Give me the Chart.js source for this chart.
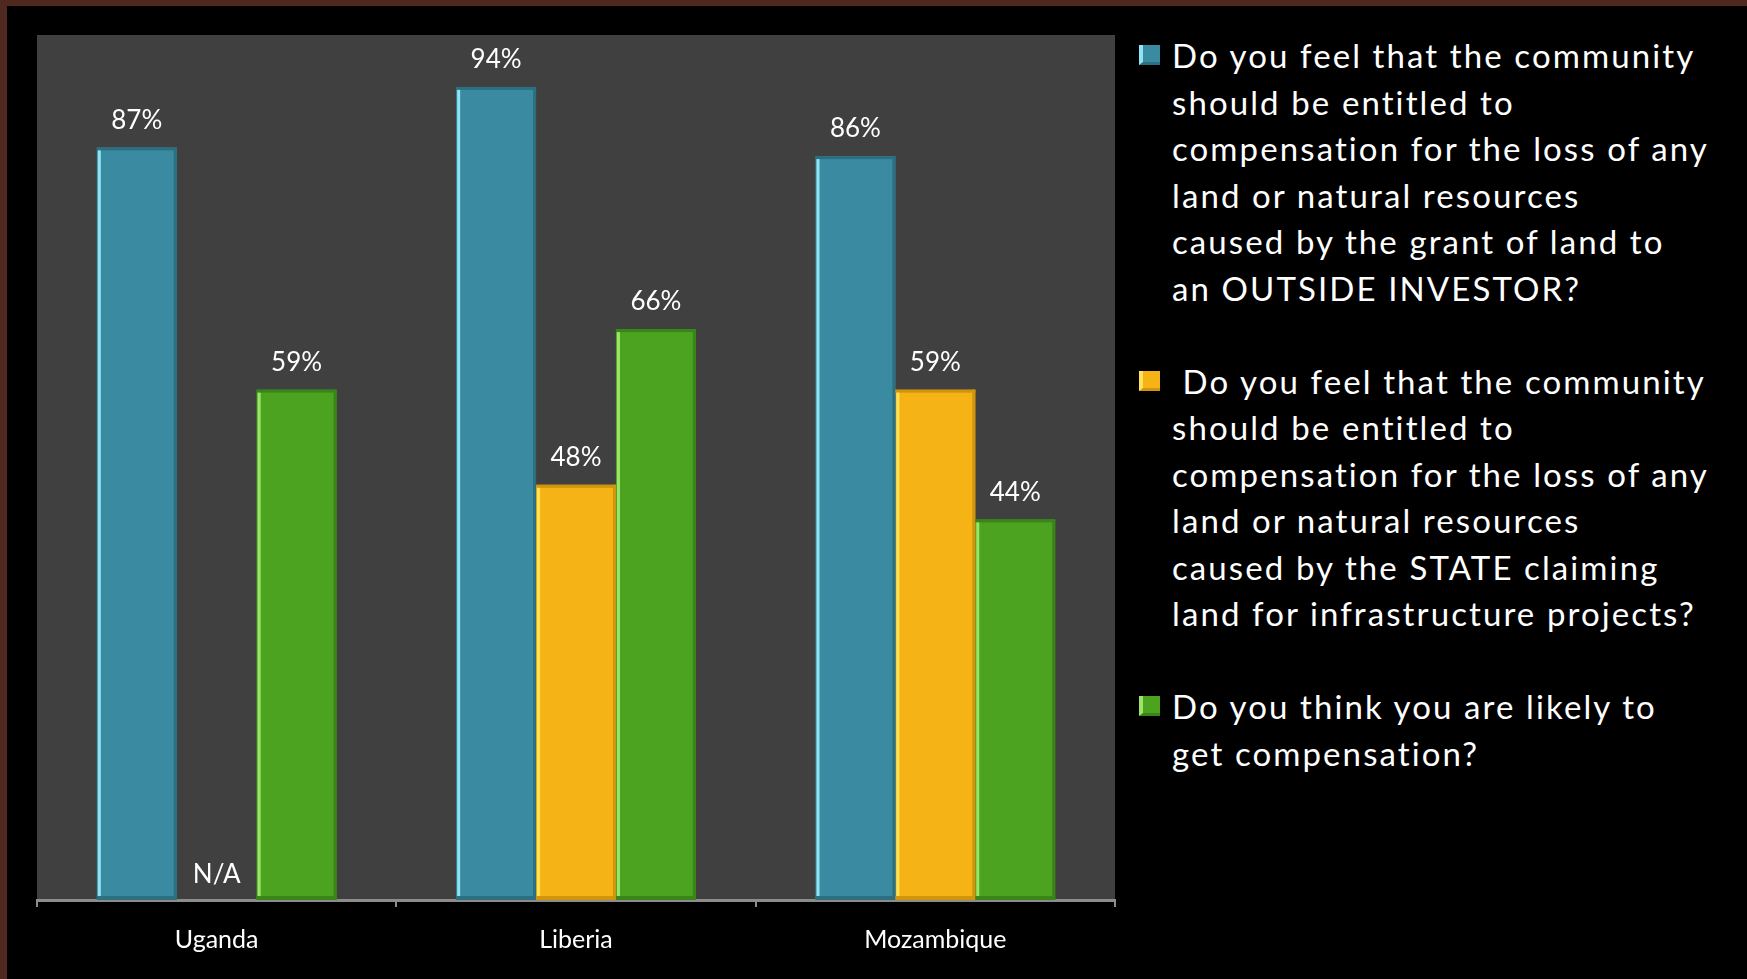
<!DOCTYPE html>
<html>
<head>
<meta charset="utf-8">
<script src="https://cdn.jsdelivr.net/npm/chart.js@4.4.1/dist/chart.umd.min.js"></script>
<style>
  html, body { margin: 0; padding: 0; background: #000; }
  body { width: 1747px; height: 979px; overflow: hidden; position: relative; font-family: Lato, "Noto Sans", sans-serif; }
  .edge { position: absolute; background: #4f281f; }
  #edgeTop { left: 0; top: 0; width: 1747px; height: 6px; }
  #edgeLeft { left: 0; top: 0; width: 7px; height: 979px; }
  #chart { position: absolute; left: 0; top: 0; }
  #legend { position: absolute; left: 1139px; top: 32px; width: 620px; color: #fff; font-size: 33px; line-height: 46.5px; letter-spacing: 2.1px; }
  .item { display: flex; align-items: flex-start; margin-bottom: 46.5px; }
  .swatch { width: 21px; height: 20px; margin-top: 13px; margin-right: 12px; flex: none; box-sizing: border-box; }
  .txt { white-space: pre-wrap; }
</style>
</head>
<body>
<div class="edge" id="edgeTop"></div>
<div class="edge" id="edgeLeft"></div>
<canvas id="chart"></canvas>
<div id="legend"></div>

<script>
/* DATA */
const countries = ["Uganda", "Liberia", "Mozambique"];
const investorComp = [87, 94, 86];
const stateComp = [null, 48, 59];
const likelyComp = [59, 66, 44];
const missingText = "N/A";

const seriesNames = [
  "Do you feel that the community\nshould be entitled to\ncompensation for the loss of any\nland or natural resources\ncaused by the grant of land to\nan OUTSIDE INVESTOR?",
  " Do you feel that the community\nshould be entitled to\ncompensation for the loss of any\nland or natural resources\ncaused by the STATE claiming\nland for infrastructure projects?",
  "Do you think you are likely to\nget compensation?"
];

/* COLOURS */
const fills = ["#3a8ba1", "#f5b315", "#4ba320"];
const lights = ["#8fe3f2", "#ffe45a", "#9be56a"];
const darks = ["#2c6f80", "#d1950c", "#3a8518"];

/* plot background */
const plotBg = {
  id: "plotBg",
  beforeDraw(chart) {
    const { ctx, chartArea: a } = chart;
    ctx.save();
    ctx.fillStyle = "#404040";
    ctx.fillRect(a.left, a.top, a.right - a.left, a.bottom - a.top);
    ctx.restore();
  }
};

/* bevel edges + value labels */
const barDeco = {
  id: "barDeco",
  afterDatasetsDraw(chart) {
    const ctx = chart.ctx;
    const bottom = chart.chartArea.bottom;
    ctx.save();
    ctx.font = "26px Lato, sans-serif";
    ctx.textAlign = "center";
    ctx.textBaseline = "middle";
    chart.data.datasets.forEach((ds, i) => {
      const meta = chart.getDatasetMeta(i);
      meta.data.forEach((bar, j) => {
        const v = ds.data[j];
        const p = bar.getProps(["x", "y", "base", "width"], true);
        const l = p.x - p.width / 2;
        const r = p.x + p.width / 2;
        if (v == null) {
          ctx.fillStyle = "#fff";
          ctx.fillText(missingText, p.x, bottom - 25);
          return;
        }
        ctx.fillStyle = darks[i];
        ctx.fillRect(l, p.y, p.width, 3);
        ctx.fillRect(r - 3, p.y, 3, p.base - p.y);
        ctx.fillRect(l, p.base - 4, p.width, 4);
        ctx.fillStyle = lights[i];
        ctx.fillRect(l + 1, p.y + 3, 3, p.base - p.y - 7);

        ctx.fillStyle = "#fff";
        ctx.fillText(v + "%", p.x, p.y - 27);
      });
    });
    ctx.restore();
  }
};

const canvas = document.getElementById("chart");
canvas.width = 1130;
canvas.height = 979;

const chart = new Chart(canvas.getContext("2d"), {
  type: "bar",
  data: {
    labels: countries,
    datasets: [investorComp, stateComp, likelyComp].map((d, i) => ({
      label: seriesNames[i],
      data: d,
      backgroundColor: fills[i],
      borderWidth: 0,
      barPercentage: 1,
      categoryPercentage: 0.667
    }))
  },
  options: {
    responsive: false,
    animation: false,
    layout: { padding: { left: 37, top: 35, right: 15, bottom: 0 } },
    plugins: {
      legend: { display: false },
      tooltip: { enabled: false }
    },
    scales: {
      x: {
        afterFit(scale) { scale.height = 79; },
        grid: {
          drawOnChartArea: false,
          tickLength: 7,
          color: "#8c8c8c",
          lineWidth: 2
        },
        border: { display: true, color: "#8c8c8c", width: 3 },
        ticks: {
          color: "#fff",
          font: { family: "Lato", size: 25 },
          padding: 18
        }
      },
      y: {
        display: false,
        min: 0,
        max: 100
      }
    }
  },
  plugins: [plotBg, barDeco]
});

/* LEGEND */
const legend = document.getElementById("legend");
seriesNames.forEach((name, i) => {
  const row = document.createElement("div");
  row.className = "item";
  const sw = document.createElement("div");
  sw.className = "swatch";
  sw.style.background = fills[i];
  sw.style.borderLeft = "4px solid " + lights[i];
  sw.style.borderBottom = "3px solid " + darks[i];
  const t = document.createElement("div");
  t.className = "txt";
  t.textContent = name;
  row.appendChild(sw);
  row.appendChild(t);
  legend.appendChild(row);
});
</script>
</body>
</html>
